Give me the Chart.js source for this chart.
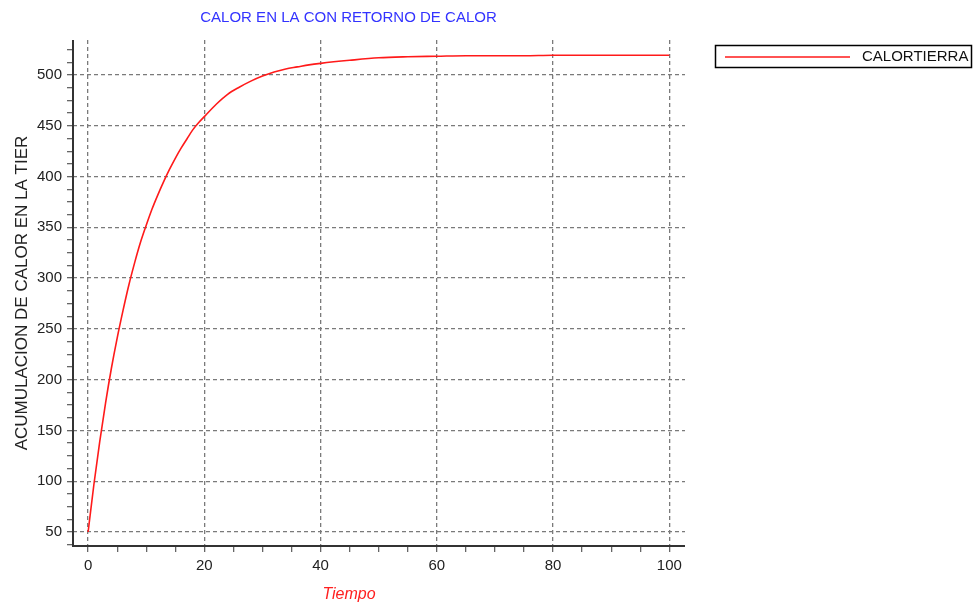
<!DOCTYPE html>
<html>
<head>
<meta charset="utf-8">
<script src="https://cdn.jsdelivr.net/npm/chart.js@4/dist/chart.umd.min.js"></script>
<style>
  html, body { margin: 0; padding: 0; background: #fff; }
  #wrap { width: 973px; height: 604px; position: relative; }
</style>
</head>
<body>
<div id="wrap"><canvas id="calorChart"></canvas></div>
<script>
// values
const tiempo = [0, 1, 2, 3, 4, 5, 6, 7, 8, 9, 10, 11, 12, 13, 14, 15, 16, 17, 18, 19, 20,
  22, 24, 26, 28, 30, 32, 34, 36, 38, 40,
  45, 50, 55, 60, 65, 70, 75, 80, 85, 90, 95, 100];
const calorTierra = [50, 97, 139, 177, 211, 241, 268, 293, 315, 335, 352, 368, 382, 395, 407, 418, 428, 437, 446, 453, 459,
  471, 481, 488, 494, 499, 503, 506, 508, 510, 511.5,
  514.5, 517, 518, 518.5, 519, 519, 519, 519.5, 519.5, 519.5, 519.5, 519.5];

const xTickLabels = [0, 20, 40, 60, 80, 100];
const yTickLabels = [50, 100, 150, 200, 250, 300, 350, 400, 450, 500];
const xMinorStep = 5;
const yMinorStep = 12.5;

const FONT = "'Liberation Sans', Arial, sans-serif";
const GRID = "#7a7a7a";

function minorTicks(min, max, step) {
  const out = [];
  for (let v = Math.ceil(min / step) * step; v <= max + 1e-9; v += step) {
    out.push({ value: Math.round(v * 100) / 100 });
  }
  return out;
}

// legend box, x title and axis lines drawn by hand
const extras = {
  id: "extras",
  afterDraw(chart) {
    const ctx = chart.ctx;
    const area = chart.chartArea;
    const ds = chart.data.datasets[0];
    ctx.save();
    ctx.setLineDash([]);
    // axis lines (solid)
    ctx.strokeStyle = "#333";
    ctx.lineWidth = 2;
    ctx.beginPath();
    ctx.moveTo(area.left, area.top);
    ctx.lineTo(area.left, area.bottom);
    ctx.lineTo(area.right, area.bottom);
    ctx.stroke();

    ctx.strokeStyle = "#000";
    ctx.lineWidth = 1.5;
    ctx.strokeRect(715.5, 45.5, 256, 22);
    ctx.strokeStyle = ds.borderColor;
    ctx.lineWidth = 1.5;
    ctx.beginPath();
    ctx.moveTo(725, 57);
    ctx.lineTo(850, 57);
    ctx.stroke();
    ctx.fillStyle = "#111";
    ctx.font = "15px " + FONT;
    ctx.textBaseline = "middle";
    ctx.textAlign = "left";
    ctx.fillText(ds.label, 862, 57);

    ctx.fillStyle = "#ff2020";
    ctx.font = "italic 16px " + FONT;
    ctx.textAlign = "center";
    ctx.fillText("Tiempo", 349, 595);
    ctx.restore();
  }
};

const ctx = document.getElementById("calorChart").getContext("2d");
new Chart(ctx, {
  type: "line",
  data: {
    datasets: [{
      label: "CALORTIERRA",
      data: tiempo.map((t, i) => ({ x: t, y: calorTierra[i] })),
      borderColor: "#ff1a1a",
      borderWidth: 1.6,
      pointRadius: 0,
      fill: false,
      cubicInterpolationMode: "monotone"
    }]
  },
  options: {
    responsive: true,
    maintainAspectRatio: false,
    animation: false,
    layout: { padding: { left: 12, right: 288, top: 0, bottom: 0 } },
    plugins: {
      legend: { display: false },
      tooltip: { enabled: false },
      title: {
        display: true,
        text: "CALOR EN LA CON RETORNO DE CALOR",
        color: "#3333ff",
        font: { family: FONT, size: 15, weight: "normal" },
        padding: { top: 9, bottom: 13 }
      }
    },
    scales: {
      x: {
        type: "linear",
        min: -2.6,
        max: 102.7,
        afterBuildTicks: (s) => { s.ticks = minorTicks(s.min, s.max, xMinorStep); },
        afterFit: (s) => { s.height = 58; },
        border: { display: false, dash: [4, 3] },
        grid: {
          color: (c) => (c.tick && xTickLabels.includes(c.tick.value)) ? GRID : "rgba(0,0,0,0)",
          tickColor: "#666",
          tickBorderDash: [],
          tickLength: 6,
          lineWidth: 1.3
        },
        ticks: {
          autoSkip: false,
          maxRotation: 0,
          padding: 5,
          color: "#222",
          font: { family: FONT, size: 15 },
          callback: (v) => xTickLabels.includes(v) ? String(v) : ""
        }
      },
      y: {
        type: "linear",
        min: 36.2,
        max: 534.5,
        afterBuildTicks: (s) => { s.ticks = minorTicks(s.min, s.max, yMinorStep); },
        afterFit: (s) => { s.width = 61; },
        border: { display: false, dash: [4, 3] },
        grid: {
          color: (c) => (c.tick && yTickLabels.includes(c.tick.value)) ? GRID : "rgba(0,0,0,0)",
          tickColor: "#666",
          tickBorderDash: [],
          tickLength: 6,
          lineWidth: 1.3
        },
        title: {
          display: true,
          text: "ACUMULACION DE CALOR EN LA TIER",
          color: "#222",
          font: { family: FONT, size: 17 },
          padding: { top: 0, bottom: 0 }
        },
        ticks: {
          autoSkip: false,
          padding: 5,
          color: "#222",
          font: { family: FONT, size: 15 },
          callback: (v) => yTickLabels.includes(v) ? String(v) : ""
        }
      }
    }
  },
  plugins: [extras]
});
</script>
</body>
</html>
